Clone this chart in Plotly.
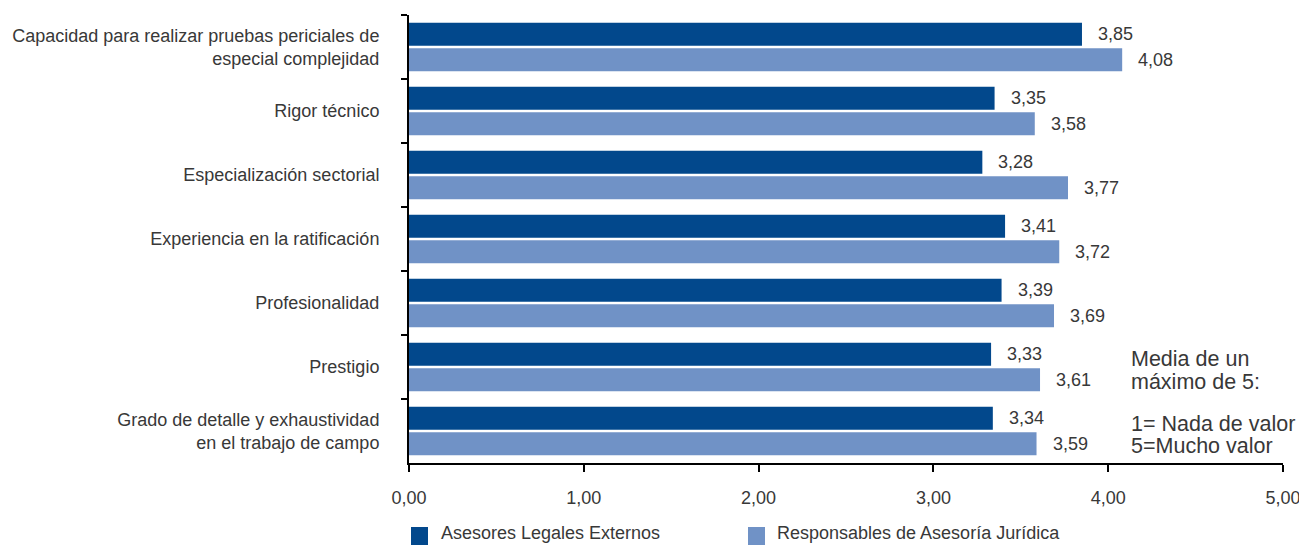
import plotly.graph_objects as go

categories = [
    "Capacidad para realizar pruebas periciales de<br>especial complejidad",
    "Rigor técnico",
    "Especialización sectorial",
    "Experiencia en la ratificación",
    "Profesionalidad",
    "Prestigio",
    "Grado de detalle y exhaustividad<br>en el trabajo de campo",
]
asesores = [3.85, 3.35, 3.28, 3.41, 3.39, 3.33, 3.34]
responsables = [4.08, 3.58, 3.77, 3.72, 3.69, 3.61, 3.59]
series_names = ["Asesores Legales Externos", "Responsables de Asesoría Jurídica"]
x_ticks = [0, 1, 2, 3, 4, 5]
x_tick_labels = ["0,00", "1,00", "2,00", "3,00", "4,00", "5,00"]
note_lines = ["Media de un", "máximo de 5:", "", "1= Nada de valor", "5=Mucho valor"]

DARK = "#02488C"
LIGHT = "#7092C6"
TXT = "#383838"
FONT = "Liberation Sans, Arial, sans-serif"

# page offset (body margin of the html page)
OFF = 8
W, H = 1307 - OFF, 545 - OFF
# plot area in page pixel coordinates
PL, PR, PT, PB = 409, 1283, 15, 463
fl, fr, ft, fb = PL - OFF, PR - OFF, PT - OFF, PB - OFF


def px_to_paper(px, py):
    """page pixel -> plot-area paper coordinates"""
    return (px - PL) / (PR - PL), (PB - py) / (PB - PT)


fig = go.Figure()
colors = [DARK, LIGHT]
for name, vals, col in zip(series_names, [asesores, responsables], colors):
    fig.add_trace(go.Bar(y=categories, x=vals, orientation="h", name=name,
                         marker=dict(color=col, line=dict(width=0)), showlegend=False))

annotations = []
shapes = []
for cat, a, r in zip(categories, asesores, responsables):
    for v, ys in ((a, 12.8), (r, -12.8)):
        annotations.append(dict(x=v, y=cat, xref="x", yref="y", text=f"{v:.2f}".replace(".", ","),
                                showarrow=False, xanchor="left", xshift=14, yshift=ys,
                                font=dict(size=18, color=TXT, family=FONT)))

note_y = [359, 382, 404, 424, 446]
for line, py in zip(note_lines, note_y):
    if not line:
        continue
    x, y = px_to_paper(1131, py)
    annotations.append(dict(x=x, y=y, xref="paper", yref="paper",
                            text=line, showarrow=False, xanchor="left", yanchor="middle",
                            xshift=-2,
                            font=dict(size=21.5, color=TXT, family=FONT)))

# manual legend
legend_sq_x = [411, 748]
legend_txt_x = [441, 777]
for name, col, sx, tx in zip(series_names, colors, legend_sq_x, legend_txt_x):
    x0, y0 = px_to_paper(sx, 545)
    x1, y1 = px_to_paper(sx + 17, 527)
    shapes.append(dict(type="rect", xref="paper", yref="paper", x0=x0, x1=x1, y0=y0, y1=y1,
                       fillcolor=col, line=dict(width=0)))
    x, y = px_to_paper(tx, 544)
    annotations.append(dict(x=x, y=y, xref="paper", yref="paper", text=name, showarrow=False,
                            xanchor="left", yanchor="bottom", xshift=-1, borderpad=0,
                            font=dict(size=18, color=TXT, family=FONT)))

fig.update_layout(
    width=W, height=H,
    margin=dict(l=fl, r=W - fr, t=ft, b=H - fb, autoexpand=False),
    paper_bgcolor="white", plot_bgcolor="white",
    barmode="group", bargap=0.2, bargroupgap=0.1,
    font=dict(family=FONT, color=TXT, size=16),
    showlegend=False,
    annotations=annotations,
    shapes=shapes,
)
fig.update_xaxes(range=[0, 5], tickvals=x_ticks, ticktext=x_tick_labels,
                 showgrid=False, zeroline=False, showline=True, linecolor="black", linewidth=2,
                 ticks="outside", ticklen=7, tickwidth=2, tickcolor="black",
                 tickfont=dict(size=18, color=TXT), ticklabelstandoff=10, automargin=False)
fig.update_yaxes(autorange="reversed", showgrid=False, zeroline=False,
                 showline=True, linecolor="black", linewidth=2,
                 ticks="outside", ticklen=6, tickwidth=2, tickcolor="black", tickson="boundaries",
                 tickfont=dict(size=18, color=TXT), ticklabelstandoff=24, automargin=False)

fig.write_html("out.html")
